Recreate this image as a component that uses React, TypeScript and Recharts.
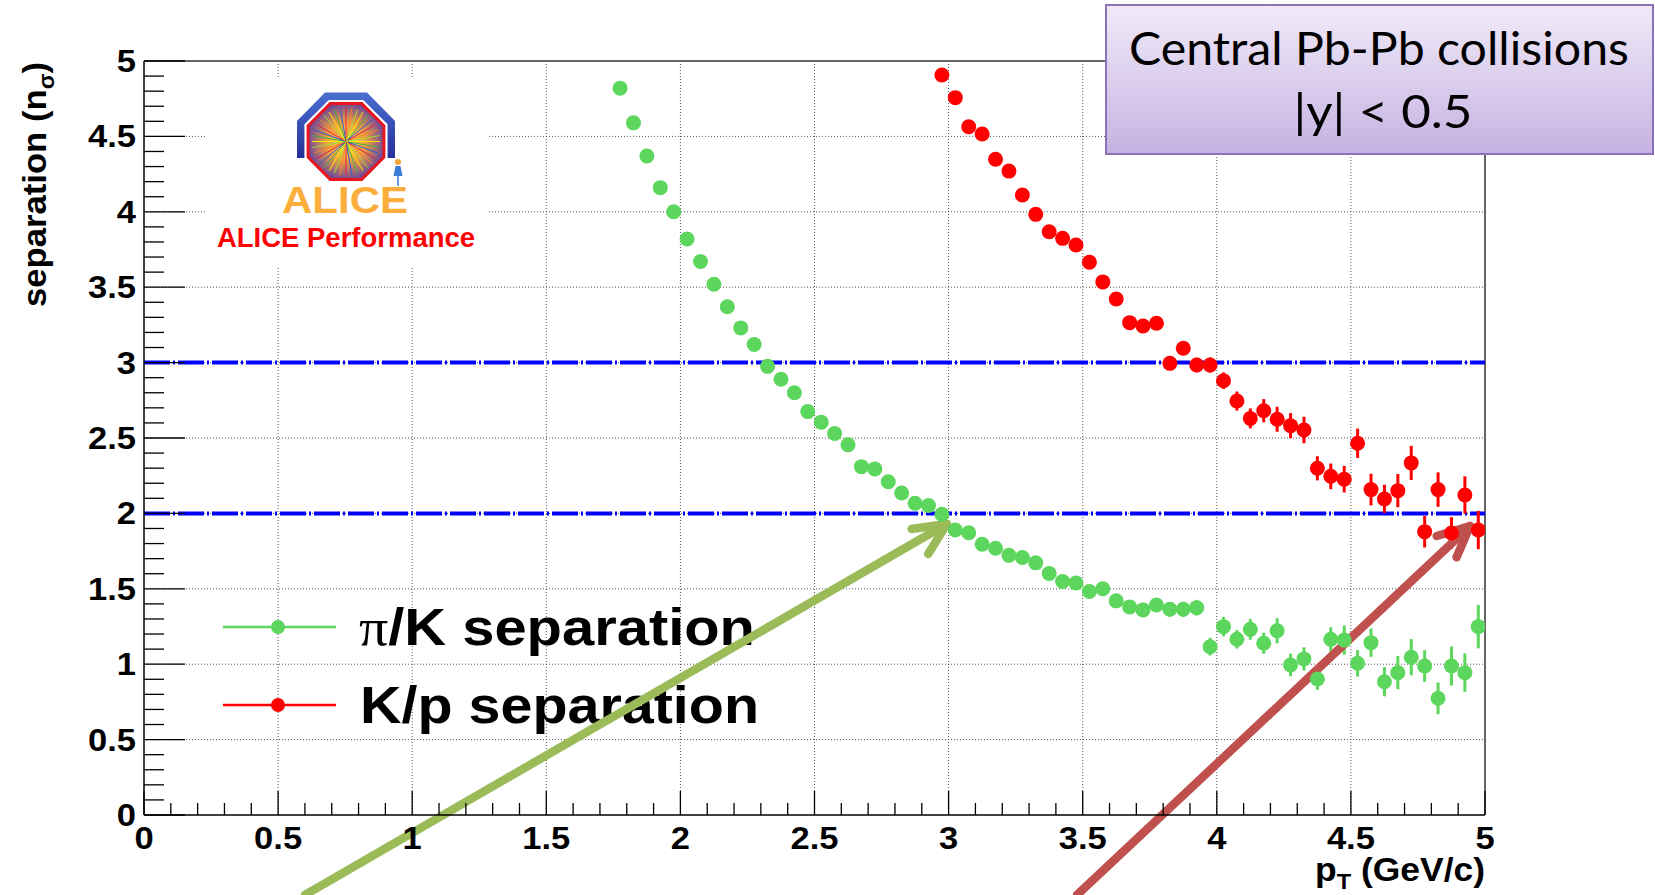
import React from 'react';
import {
  ScatterChart,
  Scatter,
  XAxis,
  YAxis,
  CartesianGrid,
  ReferenceLine,
  ErrorBar,
  Customized,
} from 'recharts';

// pT bin centres (GeV/c), 0.05 wide bins
const ptBins = [
  1.775, 1.825, 1.875, 1.925, 1.975,
  2.025, 2.075, 2.125, 2.175, 2.225, 2.275, 2.325, 2.375, 2.425, 2.475,
  2.525, 2.575, 2.625, 2.675, 2.725, 2.775, 2.825, 2.875, 2.925, 2.975,
  3.025, 3.075, 3.125, 3.175, 3.225, 3.275, 3.325, 3.375, 3.425, 3.475,
  3.525, 3.575, 3.625, 3.675, 3.725, 3.775, 3.825, 3.875, 3.925, 3.975,
  4.025, 4.075, 4.125, 4.175, 4.225, 4.275, 4.325, 4.375, 4.425, 4.475,
  4.525, 4.575, 4.625, 4.675, 4.725, 4.775, 4.825, 4.875, 4.925, 4.975,
];

const piKSeparation = [
  4.82, 4.59, 4.37, 4.16, 4.0,
  3.82, 3.67, 3.52, 3.37, 3.23, 3.12, 2.975, 2.89, 2.8, 2.675,
  2.605, 2.53, 2.455, 2.31, 2.295, 2.21, 2.135, 2.067, 2.052, 1.994,
  1.89, 1.872, 1.795, 1.769, 1.722, 1.708, 1.672, 1.602, 1.548, 1.538,
  1.482, 1.5, 1.42, 1.38, 1.36, 1.393, 1.364, 1.364, 1.375, 1.116,
  1.249, 1.165, 1.231, 1.139, 1.222, 0.995, 1.035, 0.902, 1.165, 1.16,
  1.006, 1.143, 0.884, 0.944, 1.046, 0.988, 0.774, 0.988, 0.944, 1.249,
];

const piKError = [
  0.01, 0.01, 0.01, 0.01, 0.01,
  0.01, 0.01, 0.012, 0.012, 0.012, 0.014, 0.014, 0.015, 0.015, 0.016,
  0.016, 0.017, 0.018, 0.018, 0.019, 0.02, 0.02, 0.021, 0.022, 0.022,
  0.024, 0.025, 0.026, 0.027, 0.028, 0.029, 0.03, 0.032, 0.033, 0.035,
  0.036, 0.038, 0.04, 0.042, 0.044, 0.046, 0.048, 0.05, 0.052, 0.058,
  0.064, 0.061, 0.069, 0.07, 0.083, 0.075, 0.077, 0.072, 0.08, 0.097,
  0.088, 0.094, 0.097, 0.11, 0.12, 0.105, 0.105, 0.13, 0.127, 0.144,
];

// K/p separation starts at the 2.975 GeV/c bin
const kpFirstBin = 24;

const kpSeparation = [
  4.907,
  4.757, 4.564, 4.516, 4.348, 4.27, 4.111, 3.983, 3.868, 3.824, 3.78,
  3.666, 3.535, 3.422, 3.265, 3.243, 3.261, 2.995, 3.095, 2.984, 2.984,
  2.88, 2.745, 2.63, 2.681, 2.624, 2.582, 2.553, 2.299, 2.246, 2.227,
  2.465, 2.158, 2.096, 2.151, 2.335, 1.879, 2.158, 1.87, 2.122, 1.89,
];

const kpError = [
  0.02,
  0.02, 0.021, 0.022, 0.023, 0.024, 0.025, 0.026, 0.028, 0.029, 0.03,
  0.032, 0.034, 0.036, 0.038, 0.04, 0.042, 0.044, 0.046, 0.048, 0.05,
  0.055, 0.063, 0.066, 0.077, 0.083, 0.083, 0.088, 0.08, 0.085, 0.088,
  0.097, 0.105, 0.094, 0.11, 0.113, 0.105, 0.114, 0.105, 0.124, 0.127,
];

const majorTicks = [0, 0.5, 1, 1.5, 2, 2.5, 3, 3.5, 4, 4.5, 5];
const gridValues = [0.5, 1, 1.5, 2, 2.5, 3, 3.5, 4, 4.5];
const cutLevels = [3, 2];

// annotation arrows, in (pT, n_sigma) units
const greenArrow = [
  { x: 0.6, y: -0.53 },
  { x: 2.993, y: 1.93 },
  { x: 2.862, y: 1.897 },
  { x: 2.924, y: 1.731 },
];
const redArrow = [
  { x: 3.479, y: -0.53 },
  { x: 4.944, y: 1.916 },
  { x: 4.82, y: 1.85 },
  { x: 4.894, y: 1.709 },
];

const GREEN = '#5cd65c';
const RED = '#ff0000';
const LABEL_FONT = '"Liberation Sans", Arial, Helvetica, sans-serif';

const piKData = ptBins.map((x, i) => ({ x, y: piKSeparation[i], err: piKError[i] }));
const kpData = ptBins.slice(kpFirstBin).map((x, i) => ({ x, y: kpSeparation[i], err: kpError[i] }));

// 5 subdivisions between labelled ticks, like ROOT
const allTicks: number[] = [];
for (let i = 0; i < majorTicks.length - 1; i++) {
  for (let k = 0; k < 5; k++) allTicks.push(Math.round((majorTicks[i] + k * 0.1) * 10) / 10);
}
allTicks.push(majorTicks[majorTicks.length - 1]);

const isMajor = (v: number) => majorTicks.some((m) => Math.abs(m - v) < 1e-6);

const XTick = (props: any) => {
  const { x, y, payload } = props;
  const major = isMajor(payload.value);
  return (
    <g>
      <line x1={x} x2={x} y1={y} y2={y - (major ? 24 : 12)} stroke="#000" strokeWidth={1.3} />
      {major && (
        <g transform={`translate(${x},${y + 34}) scale(1.08,1)`}>
          <text x={0} y={0} textAnchor="middle" fontSize={32} fontWeight="bold" fontFamily={LABEL_FONT} fill="#000">
            {String(payload.value)}
          </text>
        </g>
      )}
    </g>
  );
};

const YTick = (props: any) => {
  const { x, y, payload } = props;
  const major = isMajor(payload.value);
  return (
    <g>
      <line x1={x} x2={x + (major ? 41 : 20)} y1={y} y2={y} stroke="#000" strokeWidth={1.3} />
      {major && (
        <g transform={`translate(${x - 8},${y + 11}) scale(1.08,1)`}>
          <text x={0} y={0} textAnchor="end" fontSize={32} fontWeight="bold" fontFamily={LABEL_FONT} fill="#000">
            {String(payload.value)}
          </text>
        </g>
      )}
    </g>
  );
};

const Legend = () => (
  <g fontFamily={LABEL_FONT}>
    <line x1={223} x2={336} y1={627} y2={627} stroke={GREEN} strokeWidth={2.5} />
    <circle cx={278} cy={627} r={7} fill={GREEN} />
    <text x={359} y={645} fontSize={52} fontWeight="bold" fill="#000" textLength={396} lengthAdjust="spacingAndGlyphs">
      <tspan fontFamily='"Liberation Serif", serif' fontWeight="normal">π</tspan>/K separation
    </text>
    <line x1={223} x2={336} y1={705} y2={705} stroke={RED} strokeWidth={2.5} />
    <circle cx={278} cy={705} r={7} fill={RED} />
    <text x={360} y={723} fontSize={52} fontWeight="bold" fill="#000" textLength={399} lengthAdjust="spacingAndGlyphs">
      K/p separation
    </text>
  </g>
);

const octagon = (cx: number, cy: number, r: number) =>
  Array.from({ length: 8 }, (_, k) => {
    const a = ((22.5 + 45 * k) * Math.PI) / 180;
    return `${cx + r * Math.cos(a)},${cy + r * Math.sin(a)}`;
  }).join(' ');

const rayColours = ['#ffe600', '#3cb44b', '#2a5bd7', '#e6194b', '#f58231', '#9ad93c'];

const AliceLogo = () => (
  <g>
    <defs>
      <linearGradient id="archBlue" x1="0" y1="0" x2="0" y2="1">
        <stop offset="0" stopColor="#4a6fd0" />
        <stop offset="1" stopColor="#26309a" />
      </linearGradient>
      <radialGradient id="burst" cx="0.5" cy="0.5" r="0.55">
        <stop offset="0" stopColor="#ffe25a" />
        <stop offset="0.45" stopColor="#f2a23c" />
        <stop offset="1" stopColor="#5a3aa8" />
      </radialGradient>
    </defs>
    <rect x={205} y={77} width={283} height={190} fill="#fff" />
    <polygon points="297,158 297,121 325,92.5 367,92.5 395,121 395,158" fill="url(#archBlue)" />
    <polygon points={octagon(346, 141.5, 45)} fill="#fff" />
    <polygon points={octagon(346, 141.5, 41)} fill="url(#burst)" stroke="#e8141e" strokeWidth={3} />
    {Array.from({ length: 36 }, (_, k) => {
      const a = (k * 10 * Math.PI) / 180;
      return (
        <line
          key={k}
          x1={346}
          y1={141.5}
          x2={346 + 34 * Math.cos(a)}
          y2={141.5 + 34 * Math.sin(a)}
          stroke={rayColours[k % rayColours.length]}
          strokeWidth={1}
        />
      );
    })}
    <circle cx={398} cy={162} r={3} fill="#f4a33b" />
    <polygon points="393.5,176 402.5,176 400.5,166 395.5,166" fill="#3a7bd5" />
    <line x1={398} x2={398} y1={176} y2={186} stroke="#3a7bd5" strokeWidth={1.5} />
    <text x={345} y={213} textAnchor="middle" fontSize={37} fontWeight="bold" fontFamily={LABEL_FONT} fill="#fbae3c" textLength={126} lengthAdjust="spacingAndGlyphs">
      ALICE
    </text>
    <text x={346} y={247} textAnchor="middle" fontSize={27} fontWeight="bold" fontFamily={LABEL_FONT} fill="#ff0000" textLength={258} lengthAdjust="spacingAndGlyphs">
      ALICE Performance
    </text>
  </g>
);

const arrowLines = (pts: { x: number; y: number }[]) => [
  [pts[0], pts[1]],
  [pts[1], pts[2]],
  [pts[1], pts[3]],
];

const Overlay = () => (
  <svg
    width={1655}
    height={895}
    style={{ position: 'absolute', left: 0, top: 0, pointerEvents: 'none' }}
  >
    <defs>
      <linearGradient id="titleFill" x1="0" y1="0" x2="0" y2="1">
        <stop offset="0" stopColor="#f0eaf8" />
        <stop offset="1" stopColor="#c6b2e2" />
      </linearGradient>
    </defs>
    <rect x={1106} y={5} width={547} height={149} fill="url(#titleFill)" stroke="#8c72b6" strokeWidth={2} />
    <text x={1379} y={65} textAnchor="middle" fontSize={46} fontFamily="Lato, sans-serif" fill="#000" textLength={500} lengthAdjust="spacingAndGlyphs">
      Central Pb-Pb collisions
    </text>
    <text x={1383} y={128} textAnchor="middle" fontSize={46} fontFamily="Lato, sans-serif" fill="#000" textLength={179} lengthAdjust="spacingAndGlyphs">
      |y| &lt; 0.5
    </text>
    <text
      transform="translate(46,62) rotate(-90)"
      textAnchor="end"
      fontSize={33}
      fontWeight="bold"
      fontFamily={LABEL_FONT}
      fill="#000"
      textLength={245}
      lengthAdjust="spacingAndGlyphs"
    >
      separation (n<tspan fontSize={22} dy={8}>σ</tspan>
      <tspan dy={-8}>)</tspan>
    </text>
    <text
      x={1485}
      y={881}
      textAnchor="end"
      fontSize={33}
      fontWeight="bold"
      fontFamily={LABEL_FONT}
      fill="#000"
      textLength={170}
      lengthAdjust="spacingAndGlyphs"
    >
      p<tspan fontSize={22} dy={8}>T</tspan>
      <tspan dy={-8}> (GeV/c)</tspan>
    </text>
  </svg>
);

export default function App() {
  return (
    <div style={{ position: 'absolute', left: 0, top: 0, width: 1655, height: 895, background: '#fff' }}>
      <ScatterChart width={1655} height={895} margin={{ top: 61, right: 170, bottom: 0, left: 0 }}>
        <CartesianGrid horizontalValues={gridValues} verticalValues={gridValues} stroke="#555" strokeDasharray="1 2" />
        <XAxis
          type="number"
          dataKey="x"
          domain={[0, 5]}
          ticks={allTicks}
          interval={0}
          height={80}
          tickSize={0}
          tickMargin={0}
          tickLine={false}
          axisLine={{ stroke: '#000', strokeWidth: 1.5 }}
          tick={<XTick />}
          allowDataOverflow
        />
        <YAxis
          type="number"
          dataKey="y"
          domain={[0, 5]}
          ticks={allTicks}
          interval={0}
          width={144}
          tickSize={0}
          tickMargin={0}
          tickLine={false}
          axisLine={{ stroke: '#000', strokeWidth: 1.5 }}
          tick={<YTick />}
          allowDataOverflow
        />
        <ReferenceLine y={5} stroke="#666" strokeWidth={2} />
        <ReferenceLine x={5} stroke="#666" strokeWidth={2} />
        <Customized component={<AliceLogo />} />
        {cutLevels.map((v) => (
          <ReferenceLine key={v} y={v} stroke="#0000ff" strokeWidth={4} strokeDasharray="26 3 2 3" />
        ))}
        <Scatter
          data={piKData}
          fill={GREEN}
          isAnimationActive={false}
          shape={(p: any) => <circle cx={p.cx} cy={p.cy} r={7.5} fill={GREEN} />}
        >
          <ErrorBar dataKey="err" direction="y" width={0} stroke={GREEN} strokeWidth={3} isAnimationActive={false} />
        </Scatter>
        <Scatter
          data={kpData}
          fill={RED}
          isAnimationActive={false}
          shape={(p: any) => <circle cx={p.cx} cy={p.cy} r={7.5} fill={RED} />}
        >
          <ErrorBar dataKey="err" direction="y" width={0} stroke={RED} strokeWidth={3} isAnimationActive={false} />
        </Scatter>
        <Customized component={<Legend />} />
        {arrowLines(greenArrow).map((seg, i) => (
          <ReferenceLine
            key={`g${i}`}
            segment={seg}
            stroke="#9bbb59"
            strokeWidth={8.5}
            strokeLinecap="round"
            ifOverflow="visible"
          />
        ))}
        {arrowLines(redArrow).map((seg, i) => (
          <ReferenceLine
            key={`r${i}`}
            segment={seg}
            stroke="#c0504d"
            strokeWidth={8.5}
            strokeLinecap="round"
            ifOverflow="visible"
          />
        ))}
      </ScatterChart>
      <Overlay />
    </div>
  );
}
